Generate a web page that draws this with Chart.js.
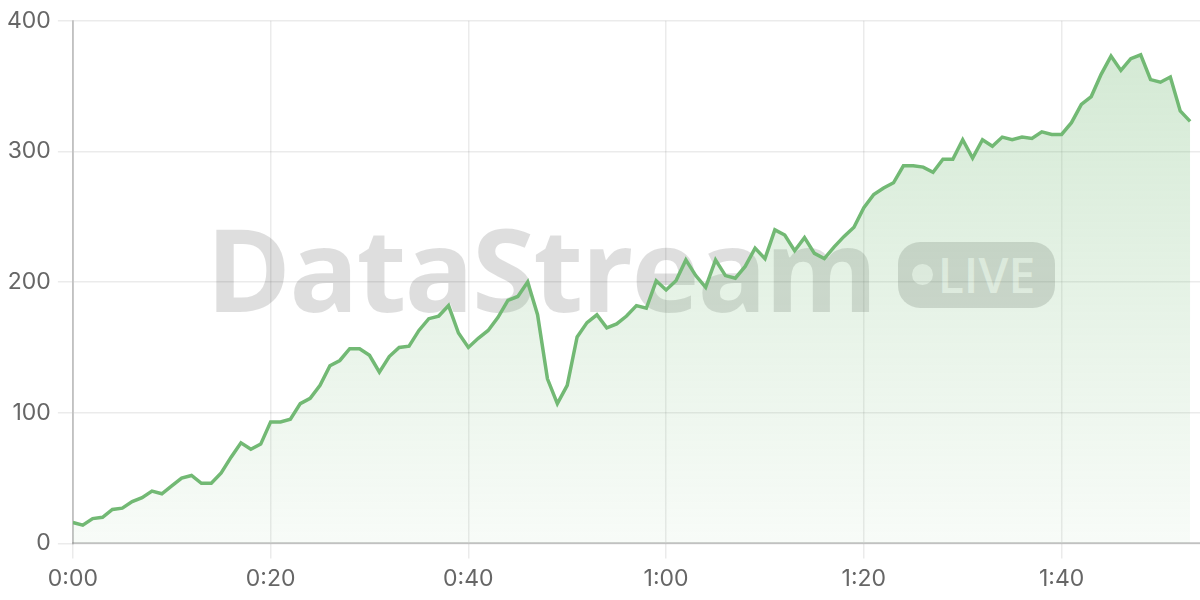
<!DOCTYPE html>
<html>
<head>
<meta charset="utf-8">
<script src="https://cdn.jsdelivr.net/npm/chart.js@4.4.1/dist/chart.umd.min.js"></script>
<style>
  html, body { margin: 0; padding: 0; background: #fff; }
  #wrap { position: relative; width: 1200px; height: 600px; }
  #chart { position: relative; z-index: 2; }
  #watermark {
    position: absolute; left: 206px; top: 210px; z-index: 1;
    display: flex; align-items: center; pointer-events: none;
    font-family: 'Open Sans', sans-serif;
  }
  #watermark .brand {
    font-size: 115px; font-weight: 700; letter-spacing: -2px;
    color: rgba(0, 0, 0, 0.13); line-height: 1;
  }
  #watermark .live {
    margin-left: 22px; margin-top: 14px;
    display: flex; align-items: center;
    height: 66px; padding: 0 20px 0 14px; border-radius: 22px;
    background: rgba(0, 0, 0, 0.14);
    font-size: 48px; font-weight: 600; color: rgba(255, 255, 255, 0.75);
  }
  #watermark .dot {
    width: 21px; height: 21px; border-radius: 50%;
    background: rgba(255, 255, 255, 0.75); margin-right: 5px;
  }
</style>
</head>
<body>
<div id="wrap">
  <div id="watermark"><span class="brand">DataStream</span><span class="live"><span class="dot"></span>LIVE</span></div>
  <canvas id="chart" width="1200" height="600"></canvas>
</div>
<script>
// Data: one value per minute, 0:00 .. 1:53
const values = [
  16, 14, 19, 20, 26, 27, 32, 35, 40, 38,
  44, 50, 52, 46, 46, 54, 66, 77, 72, 76,
  93, 93, 95, 107, 111, 121, 136, 140, 149, 149,
  144, 131, 143, 150, 151, 163, 172, 174, 182, 161,
  150, 157, 163, 173, 186, 189, 200, 175, 126, 107,
  121, 158, 169, 175, 165, 168, 174, 182, 180, 201,
  194, 201, 217, 205, 196, 217, 205, 203, 212, 226,
  218, 240, 236, 224, 234, 222, 218, 227, 235, 242,
  257, 267, 272, 276, 289, 289, 288, 284, 294, 294,
  309, 295, 309, 304, 311, 309, 311, 310, 315, 313,
  313, 322, 336, 342, 359, 373, 362, 371, 374, 355,
  353, 357, 331, 323
];
const minutes = values.map((_, i) => i);
const xMax = 114;
const yTicks = [0, 100, 200, 300, 400];

const lineColor = 'rgb(114, 185, 116)';

function fmtMinutes(m) {
  const h = Math.floor(m / 60);
  const mm = m % 60;
  return h + ':' + String(mm).padStart(2, '0');
}

const ctx = document.getElementById('chart').getContext('2d');

new Chart(ctx, {
  type: 'line',
  data: {
    datasets: [{
      data: minutes.map((m, i) => ({ x: m, y: values[i] })),
      borderColor: lineColor,
      borderWidth: 3.5,
      pointRadius: 0,
      tension: 0,
      fill: 'origin',
      backgroundColor: (context) => {
        const area = context.chart.chartArea;
        if (!area) return 'rgba(114, 185, 116, 0.2)';
        const g = context.chart.ctx.createLinearGradient(0, area.top, 0, area.bottom);
        g.addColorStop(0, 'rgba(114, 185, 116, 0.32)');
        g.addColorStop(1, 'rgba(114, 185, 116, 0.05)');
        return g;
      }
    }]
  },
  options: {
    responsive: false,
    animation: false,
    layout: { padding: { left: 0, top: 8, right: 0, bottom: 0 } },
    plugins: { legend: { display: false }, tooltip: { enabled: false } },
    scales: {
      x: {
        type: 'linear',
        min: 0,
        max: xMax,
        grid: { color: 'rgba(0,0,0,0.08)', tickLength: 15, lineWidth: 1.5 },
        border: { color: 'rgba(0,0,0,0.18)', width: 2 },
        ticks: {
          stepSize: 20,
          includeBounds: false,
          padding: 7,
          color: '#666',
          font: { family: 'Inter', size: 23 },
          callback: (v) => fmtMinutes(v)
        }
      },
      y: {
        min: yTicks[0],
        max: yTicks[yTicks.length - 1],
        grid: { color: 'rgba(0,0,0,0.08)', tickLength: 15, lineWidth: 1.5 },
        border: { color: 'rgba(0,0,0,0.18)', width: 2 },
        ticks: {
          stepSize: 100,
          padding: 7,
          color: '#666',
          font: { family: 'Inter', size: 23 }
        }
      }
    }
  }
});
</script>
</body>
</html>
